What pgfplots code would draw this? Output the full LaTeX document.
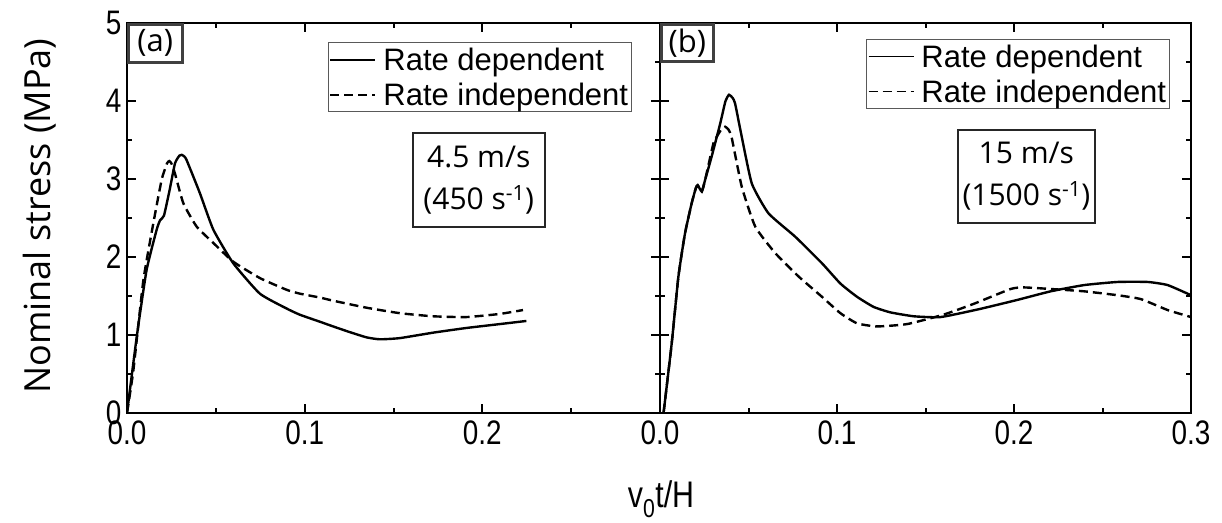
\documentclass[border=0pt]{standalone}
\usepackage{fontspec}
\setmainfont{Liberation Sans}
\newfontfamily\tickfont[FakeStretch=0.82]{Liberation Sans}
\newfontfamily\osans{Open Sans}
\usepackage{pgfplots}
\usepackage{pgfplotstable}
\pgfplotsset{compat=1.18}

\pgfplotstableread{
x y
0 0
0.0055 0.98
0.011 1.83
0.0167 2.35
0.0186 2.47
0.0208 2.53
0.024 2.86
0.027 3.20
0.0295 3.30
0.0308 3.31
0.0322 3.29
0.0336 3.24
0.041 2.82
0.0486 2.35
0.0598 1.92
0.0748 1.53
0.0898 1.34
0.0973 1.26
0.1086 1.17
0.116 1.11
0.125 1.04
0.1348 0.97
0.1423 0.945
0.1535 0.96
0.1723 1.03
0.191 1.09
0.2098 1.14
0.2248 1.18
}\aRD

\pgfplotstableread{
x y
0 0
0.0036 0.55
0.0092 1.70
0.0148 2.43
0.0195 2.99
0.0225 3.20
0.0238 3.23
0.025 3.20
0.027 3.07
0.0317 2.69
0.0392 2.39
0.0486 2.18
0.0598 1.94
0.0748 1.73
0.0898 1.58
0.0973 1.53
0.1086 1.48
0.116 1.44
0.1348 1.35
0.1535 1.28
0.1723 1.24
0.191 1.23
0.2098 1.27
0.2229 1.32
}\aRI

\pgfplotstableread{
x y
0.002 0
0.0066 0.89
0.0104 1.75
0.0141 2.30
0.0179 2.69
0.0202 2.88
0.0213 2.92
0.0236 2.84
0.0255 2.99
0.0292 3.29
0.034 3.71
0.037 4.00
0.039 4.08
0.041 4.04
0.0424 3.97
0.0462 3.54
0.0519 2.94
0.0613 2.56
0.0764 2.26
0.0915 1.92
0.1019 1.66
0.1113 1.49
0.1207 1.36
0.1302 1.29
0.1434 1.24
0.1585 1.23
0.18 1.33
0.2019 1.45
0.2207 1.56
0.2396 1.64
0.2585 1.68
0.2755 1.68
0.2868 1.64
0.3 1.51
}\bRD

\pgfplotstableread{
x y
0.002 0
0.0066 0.89
0.0104 1.75
0.0141 2.30
0.0179 2.69
0.0202 2.88
0.0213 2.92
0.0236 2.84
0.0255 2.99
0.0302 3.46
0.032 3.54
0.0345 3.63
0.0368 3.67
0.0388 3.63
0.0406 3.52
0.0462 2.90
0.0538 2.39
0.0651 2.05
0.0783 1.75
0.0915 1.49
0.1019 1.28
0.1113 1.15
0.1226 1.11
0.1396 1.14
0.16 1.26
0.1773 1.40
0.1981 1.59
0.2056 1.61
0.2207 1.59
0.2396 1.56
0.2585 1.51
0.2717 1.46
0.2868 1.32
0.3 1.23
}\bRI

\pgfplotsset{
 common/.style={
  scale only axis, ymin=0, ymax=5, xmin=0, xmax=0.3,
  ytick={0,1,2,3,4,5}, minor y tick num=1,
  xtick={0,0.1,0.2,0.3}, minor x tick num=1,
  tick align=inside, xtick pos=both, ytick pos=both,
  major tick length=9pt, minor tick length=5pt,
  axis line style={line width=2.5pt},
  every tick/.style={black, line width=2pt},
  tick label style={font=\tickfont\fontsize{34}{34}\selectfont},
  /pgf/number format/assume math mode=true,
  yticklabel style={xshift=-2pt},
  xticklabel style={yshift=-4pt},
  legend cell align=left,
  legend style={draw=black!65, line width=1.2pt,
    font=\fontsize{31}{35}\selectfont,
    inner xsep=1pt, inner ysep=3pt, row sep=7pt,
    nodes={inner sep=2pt},
    /tikz/every odd column/.append style={column sep=5pt}},
  legend image code/.code={\draw[#1, line width=1.8pt] (0pt,0pt) -- (45pt,0pt);},
 },
 rd/.style={black, line width=2.4pt, smooth, tension=0.3},
 ri/.style={black, line width=2.4pt, dash pattern=on 9pt off 5pt, smooth, tension=0.3},
}

\begin{document}
\begin{tikzpicture}
\path[use as bounding box] (0pt,0pt) rectangle (1222pt,-522pt);

\begin{axis}[common, at={(127pt,-413pt)}, anchor=south west,
  width=533pt, height=390pt,
  xticklabels={0.0,0.1,0.2,{}}, yticklabels={0,1,2,3,4,5},
  legend style={at={(0.947,0.951)}, anchor=north east}]
\addplot[rd] table {\aRD};
\addlegendentry{Rate dependent}
\addplot[ri] table {\aRI};
\addlegendentry{Rate independent}
\node[draw=black!85, line width=2.4pt, minimum width=132pt, minimum height=94pt,
  align=center, inner sep=0pt, font=\osans\fontsize{30}{42}\selectfont]
  at (rel axis cs:0.660,0.597) {4.5 m/s\\(450 s\textsuperscript{-1})};
\node[draw=black!75, line width=2.5pt, anchor=north west, minimum width=54pt,
  minimum height=38pt, inner sep=0pt, font=\osans\fontsize{31}{31}\selectfont]
  at (rel axis cs:0,1) {(a)};
\end{axis}

\begin{axis}[common, at={(660pt,-413pt)}, anchor=south west,
  width=531pt, height=390pt,
  xticklabels={0.0,0.1,0.2,0.3}, yticklabels={},
  legend style={at={(0.960,0.959)}, anchor=north east}]
\addplot[rd] table {\bRD};
\addlegendentry{Rate dependent}
\addplot[ri] table {\bRI};
\addlegendentry{Rate independent}
\node[draw=black!85, line width=2.4pt, minimum width=137pt, minimum height=93pt,
  align=center, inner sep=0pt, font=\osans\fontsize{30}{42}\selectfont]
  at (rel axis cs:0.690,0.606) {15 m/s\\(1500 s\textsuperscript{-1})};
\node[draw=black!75, line width=2.5pt, anchor=north west, minimum width=52pt,
  minimum height=37pt, inner sep=0pt, font=\osans\fontsize{31}{31}\selectfont]
  at (rel axis cs:0,1) {(b)};
\end{axis}

\node[rotate=90, font=\osans\fontsize{36}{36}\selectfont] at (40pt,-216pt) {Nominal stress (MPa)};
\node[font=\tickfont\fontsize{37}{37}\selectfont] at (661pt,-499pt) {v\textsubscript{0}t/H};
\end{tikzpicture}
\end{document}
